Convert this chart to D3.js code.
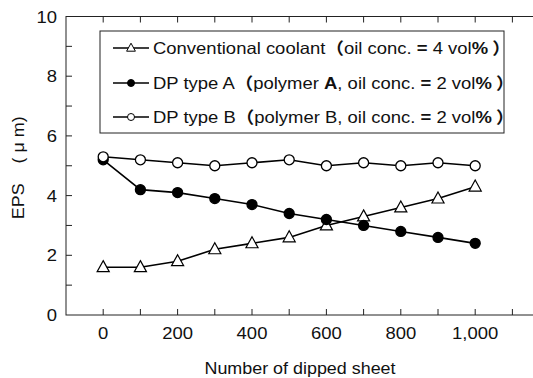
<!DOCTYPE html>
<html>
<head>
<meta charset="utf-8">
<script src="https://cdn.jsdelivr.net/npm/d3@7"></script>
<style>
  html, body { margin: 0; padding: 0; background: #fff; }
  svg { display: block; font-family: "Liberation Sans", Arial, sans-serif; }
  text { white-space: pre; fill: #111; }
</style>
</head>
<body>
<svg id="chart" width="533" height="378"></svg>
<script>
// Sheets dipped (x) and edge protrusion size EPS in µm (y)
const sheets = [0, 100, 200, 300, 400, 500, 600, 700, 800, 900, 1000];
const conventional = [1.6, 1.6, 1.8, 2.2, 2.4, 2.6, 3.0, 3.3, 3.6, 3.9, 4.3];
const dpTypeA = [5.2, 4.2, 4.1, 3.9, 3.7, 3.4, 3.2, 3.0, 2.8, 2.6, 2.4];
const dpTypeB = [5.3, 5.2, 5.1, 5.0, 5.1, 5.2, 5.0, 5.1, 5.0, 5.1, 5.0];
const xTickLabels = [0, 200, 400, 600, 800, 1000];
const yTickLabels = [0, 2, 4, 6, 8, 10];

const svg = d3.select("#chart");
const plotLeft = 66, plotRight = 549.6, plotTop = 16.5, plotBottom = 315;
const stretch = 1.12; // text is set slightly wide

const x = d3.scaleLinear().domain([-100, 1200]).range([plotLeft, plotRight]);
const y = d3.scaleLinear().domain([0, 10]).range([plotBottom, plotTop]);

// wide-set text placed at (px, py)
function wideText(parent, px, py, size, anchor, rotate) {
  return parent.append("text")
    .attr("transform", `translate(${px},${py})${rotate ? ` rotate(${rotate})` : ""} scale(${stretch},1)`)
    .attr("text-anchor", anchor).attr("font-size", size);
}

// frame
svg.append("rect")
  .attr("x", plotLeft).attr("y", plotTop)
  .attr("width", plotRight - plotLeft).attr("height", plotBottom - plotTop)
  .attr("fill", "none").attr("stroke", "#222").attr("stroke-width", 1);

// inward ticks
const tickLen = 6;
const xt = d3.range(0, 1200, 100);
svg.append("g").selectAll("line").data(xt).join("line")
  .attr("x1", d => x(d)).attr("x2", d => x(d))
  .attr("y1", plotBottom).attr("y2", plotBottom - tickLen)
  .attr("stroke", "#222");
svg.append("g").selectAll("line").data(xt).join("line")
  .attr("x1", d => x(d)).attr("x2", d => x(d))
  .attr("y1", plotTop).attr("y2", plotTop + tickLen)
  .attr("stroke", "#222");
const yt = d3.range(1, 10, 1);
svg.append("g").selectAll("line").data(yt).join("line")
  .attr("x1", plotLeft).attr("x2", plotLeft + tickLen)
  .attr("y1", d => y(d)).attr("y2", d => y(d))
  .attr("stroke", "#222");

// tick labels
const fmt = d3.format(",");
const xl = svg.append("g");
xTickLabels.forEach(d => wideText(xl, x(d), 339, 16.5, "middle").text(fmt(d)));
const yl = svg.append("g");
yTickLabels.forEach(d => wideText(yl, 57, y(d) + 6, 16.5, "end").text(d));

// axis titles
wideText(svg, 300, 374, 16, "middle").text("Number of dipped sheet");
wideText(svg, 24, (plotTop + plotBottom) / 2 + 2, 16, "middle", -90).text("EPS    ( μ m)");

// series
const line = d3.line().x((d, i) => x(sheets[i])).y(d => y(d));
const series = [
  { values: conventional, marker: "triangle", fill: "#fff" },
  { values: dpTypeA, marker: "circle", fill: "#000" },
  { values: dpTypeB, marker: "circle", fill: "#fff" }
];
const triPath = s => `M0,${-s * 0.6}L${s * 0.55},${s * 0.4}L${-s * 0.55},${s * 0.4}Z`;

series.forEach(s => {
  svg.append("path").datum(s.values)
    .attr("d", line).attr("fill", "none")
    .attr("stroke", "#000").attr("stroke-width", 1.6);
});
series.forEach(s => {
  const g = svg.append("g");
  if (s.marker === "circle") {
    g.selectAll("circle").data(s.values).join("circle")
      .attr("cx", (d, i) => x(sheets[i])).attr("cy", d => y(d))
      .attr("r", 5).attr("fill", s.fill).attr("stroke", "#000").attr("stroke-width", 1.3);
  } else {
    g.selectAll("path").data(s.values).join("path")
      .attr("transform", (d, i) => `translate(${x(sheets[i])},${y(d)})`)
      .attr("d", triPath(11)).attr("fill", s.fill).attr("stroke", "#000").attr("stroke-width", 1.2);
  }
});

// legend
const lg = svg.append("g");
lg.append("rect").attr("x", 100).attr("y", 31).attr("width", 404).attr("height", 102)
  .attr("fill", "#fff").attr("stroke", "#222").attr("stroke-width", 1);

const rows = [
  { marker: "triangle", fill: "#fff", parts: [["Conventional coolant", 0], ["（", 1], ["oil conc. ", 0], ["=", 1], [" 4 vol", 0], ["%", 1], [" ）", 1]] },
  { marker: "circle", fill: "#000", parts: [["DP type A", 0], ["（", 1], ["polymer ", 0], ["A", 1], [", oil conc. ", 0], ["=", 1], [" 2 vol", 0], ["%", 1], [" ）", 1]] },
  { marker: "circle", fill: "#fff", parts: [["DP type B", 0], ["（", 1], ["polymer B, oil conc. ", 0], ["=", 1], [" 2 vol", 0], ["%", 1], [" ）", 1]] }
];
const rowY = [48, 83, 117];
rows.forEach((r, i) => {
  const yy = rowY[i];
  lg.append("line").attr("x1", 113).attr("x2", 149).attr("y1", yy).attr("y2", yy)
    .attr("stroke", "#000").attr("stroke-width", 1.6);
  if (r.marker === "circle") {
    lg.append("circle").attr("cx", 131).attr("cy", yy).attr("r", 3.5)
      .attr("fill", r.fill).attr("stroke", "#000").attr("stroke-width", 1);
  } else {
    lg.append("path").attr("transform", `translate(131,${yy})`).attr("d", triPath(8))
      .attr("fill", r.fill).attr("stroke", "#000").attr("stroke-width", 1);
  }
  const t = wideText(lg, 153, yy + 6, 16.5, "start");
  r.parts.forEach(([txt, bold]) => {
    const ts = t.append("tspan").text(txt);
    if (bold) ts.attr("font-weight", "bold");
    if (txt.includes("（") || txt.includes("）")) ts.attr("font-family", "'Noto Sans CJK JP', sans-serif");
  });
});
</script>
</body>
</html>
